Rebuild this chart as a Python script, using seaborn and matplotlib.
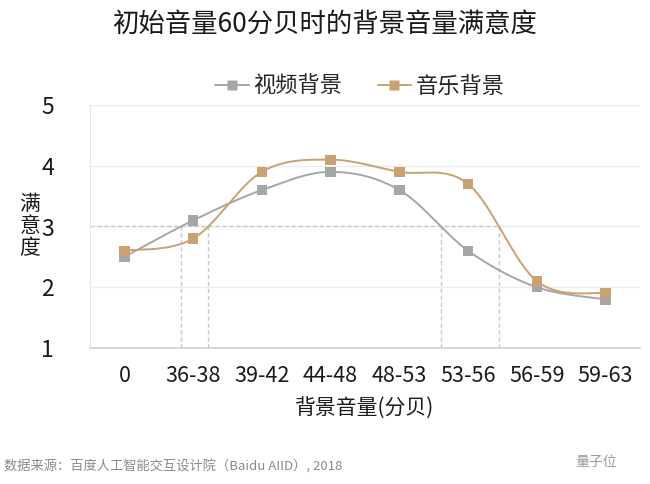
import numpy as np
import pandas as pd
import matplotlib
matplotlib.use("Agg")
import matplotlib.pyplot as plt
from matplotlib.lines import Line2D
import seaborn as sns

categories = ["0", "36-38", "39-42", "44-48", "48-53", "53-56", "56-59", "59-63"]
video_bg = [2.5, 3.1, 3.6, 3.9, 3.6, 2.6, 2.0, 1.8]
music_bg = [2.6, 2.8, 3.9, 4.1, 3.9, 3.7, 2.1, 1.9]
series_names = ["视频背景", "音乐背景"]
yticks = [1, 2, 3, 4, 5]
threshold = 3

sns.set_style("white")
plt.rcParams['font.family'] = ['Noto Sans CJK SC', 'DejaVu Sans']

colors = {"视频背景": "#a6a6a6", "音乐背景": "#c9a270"}


def smooth(y, n=40):
    """Excel-style smoothed curve (cubic Bezier, Catmull-Rom control points)."""
    y = np.asarray(y, float)
    x = np.arange(len(y), dtype=float)
    P = np.column_stack([x, y])
    xs, ys = [], []
    t = np.linspace(0, 1, n)
    for i in range(len(P) - 1):
        p0 = P[i - 1] if i > 0 else P[i]
        p1, p2 = P[i], P[i + 1]
        p3 = P[i + 2] if i + 2 < len(P) else P[i + 1]
        c1 = p1 + (p2 - p0) / 6
        c2 = p2 - (p3 - p1) / 6
        B = ((1 - t) ** 3)[:, None] * p1 + (3 * (1 - t) ** 2 * t)[:, None] * c1 \
            + (3 * (1 - t) * t ** 2)[:, None] * c2 + (t ** 3)[:, None] * p2
        xs.append(B[:, 0]); ys.append(B[:, 1])
    return np.concatenate(xs), np.concatenate(ys)


def crossings(xs, ys, level):
    out = []
    d = ys - level
    for i in range(len(d) - 1):
        if d[i] == 0 or d[i] * d[i + 1] < 0:
            out.append(xs[i] + (xs[i + 1] - xs[i]) * (level - ys[i]) / (ys[i + 1] - ys[i]))
    return out


fig = plt.figure(figsize=(6.5, 4.84), dpi=100)
ax = fig.add_axes([90 / 650, 1 - 348 / 484, 550 / 650, (348 - 105) / 484])

df = pd.DataFrame({"cat": categories, "视频背景": video_bg, "音乐背景": music_bg})
cross_pts = []
for name in series_names:
    xs, ys = smooth(df[name].values)
    cross_pts += crossings(xs, ys, threshold)
    sm = pd.DataFrame({"x": xs, "y": ys})
    sns.lineplot(data=sm, x="x", y="y", ax=ax, color=colors[name], lw=1.4,
                 sort=False, estimator=None, legend=False, zorder=3)
    pts = pd.DataFrame({"x": np.arange(len(categories)), "y": df[name].values})
    sns.scatterplot(data=pts, x="x", y="y", ax=ax, marker="s", s=55,
                    color=colors[name], edgecolor="none", legend=False, zorder=4)

ax.set_xlim(-0.5, len(categories) - 0.5)
ax.set_ylim(1, 5)

# reference lines at satisfaction = 3
dash_c = "#c8c8c8"
ax.plot([-0.5, max(cross_pts)], [threshold, threshold], ls=(0, (3, 2)), color=dash_c, lw=1, zorder=2)
for cx in cross_pts:
    ax.plot([cx, cx], [1, threshold], ls=(0, (3, 2)), color=dash_c, lw=1, zorder=2)

ax.set_yticks(yticks)
ax.set_yticklabels([str(v) for v in yticks], fontsize=16.5, color="#1a1a1a")
ax.set_xticks(range(len(categories)))
ax.set_xticklabels(categories, fontsize=15.5, color="#1a1a1a")
ax.tick_params(axis="y", length=0, pad=26)
ax.tick_params(axis="x", length=0, pad=12)
ax.grid(axis="y", color="#ececec", lw=1)
ax.set_axisbelow(True)
for s in ["top", "right"]:
    ax.spines[s].set_visible(False)
ax.spines["left"].set_color("#e6e6e6")
ax.spines["bottom"].set_color("#d0d0d0")
ax.spines["bottom"].set_linewidth(1.2)

ax.set_xlabel("背景音量(分贝)", fontsize=15, color="#1a1a1a", labelpad=8)
ax.set_ylabel("")
fig.text(30 / 650, 1 - 226 / 484, "满\n意\n度", fontsize=15, ha="center", va="center",
         linespacing=1.0, color="#1a1a1a")

fig.text(0.5, 1 - 24 / 484, "初始音量60分贝时的背景音量满意度", fontsize=19,
         ha="center", va="center", color="#1a1a1a")

handles = [Line2D([0], [0], color=colors[n], marker="s", markersize=7, lw=1.4,
                  markeredgecolor="none") for n in series_names]
fig.legend(handles, series_names, loc="center", bbox_to_anchor=(360 / 650, 1 - 86 / 484),
           ncol=2, frameon=False, fontsize=16, handlelength=1.5, handletextpad=0.2,
           columnspacing=1.6)

fig.text(4 / 650, 1 - 467 / 484, "数据来源：百度人工智能交互设计院（Baidu AIID）, 2018",
         fontsize=9.5, color="#8a8a8a", ha="left", va="center")
fig.text(596 / 650, 1 - 462 / 484, "量子位", fontsize=10, color="#9a9a9a",
         ha="center", va="center")

fig.savefig("out.png", dpi=100, facecolor="white")
